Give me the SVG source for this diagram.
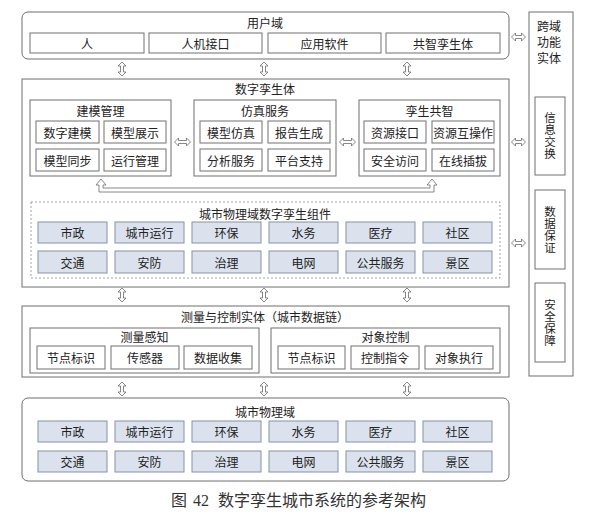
<svg xmlns="http://www.w3.org/2000/svg" width="597" height="516" viewBox="0 0 597 516">
<defs>
<style>
text{font-family:"Noto Sans CJK SC","Liberation Sans",sans-serif;font-size:12px;fill:#222;text-anchor:middle;dominant-baseline:central}
.vt{writing-mode:vertical-rl;font-size:11.5px;letter-spacing:0.5px}
.outer{fill:#fff;stroke:#6e6e6e;stroke-width:1}
.panel{fill:#fff;stroke:#6e6e6e;stroke-width:1}
.box{fill:#fff;stroke:#707070;stroke-width:1}
.cell{fill:#dbe2ee;stroke:#8592a6;stroke-width:1}
.dash{fill:none;stroke:#8a8a8a;stroke-width:0.8;stroke-dasharray:2 2}
.arr{fill:#fff;stroke:#6a6a6a;stroke-width:0.8}
.cap{font-family:"Liberation Serif","Noto Sans CJK SC",serif;font-size:16px;fill:#333;text-anchor:start}
</style>
<polygon id="va" points="0,-7 4,-3 1.5,-3 1.5,3 4,3 0,7 -4,3 -1.5,3 -1.5,-3 -4,-3"/>
<polygon id="ha" points="-8,0 -4,-4 -4,-1.5 4,-1.5 4,-4 8,0 4,4 4,1.5 -4,1.5 -4,4"/>
<polygon id="ha2" points="-7,0 -3,-4 -3,-1.5 3,-1.5 3,-4 7,0 3,4 3,1.5 -3,1.5 -3,4"/>
</defs>
<rect width="597" height="516" fill="#fff"/>

<g id="user-domain">
<rect class="outer" x="22" y="12" width="487" height="47" rx="6"/>
<text x="265" y="22">用户域</text>
<rect class="box" x="30" y="33" width="114" height="20"/><text x="87" y="43">人</text>
<rect class="box" x="149" y="33" width="113" height="20"/><text x="205.5" y="43">人机接口</text>
<rect class="box" x="268" y="33" width="113" height="20"/><text x="324.5" y="43">应用软件</text>
<rect class="box" x="386" y="33" width="114" height="20"/><text x="443" y="43">共智孪生体</text>
</g>

<g id="digital-twin">
<rect class="outer" x="22" y="79" width="487" height="208"/>
<text x="265" y="88">数字孪生体</text>
</g>

<g id="modeling">
<rect class="panel" x="30" y="100" width="141" height="76"/>
<text x="100.5" y="110">建模管理</text>
<rect class="box" x="36" y="121" width="63" height="22"/><text x="67.5" y="132">数字建模</text>
<rect class="box" x="104" y="121" width="62" height="22"/><text x="135" y="132">模型展示</text>
<rect class="box" x="36" y="149" width="63" height="22"/><text x="67.5" y="160">模型同步</text>
<rect class="box" x="104" y="149" width="62" height="22"/><text x="135" y="160">运行管理</text>
</g>

<g id="simulation">
<rect class="panel" x="194" y="100" width="142" height="76"/>
<text x="265" y="110">仿真服务</text>
<rect class="box" x="200" y="121" width="62" height="22"/><text x="231" y="132">模型仿真</text>
<rect class="box" x="268" y="121" width="62" height="22"/><text x="299" y="132">报告生成</text>
<rect class="box" x="200" y="149" width="62" height="22"/><text x="231" y="160">分析服务</text>
<rect class="box" x="268" y="149" width="62" height="22"/><text x="299" y="160">平台支持</text>
</g>

<g id="twin-intelligence">
<rect class="panel" x="359" y="100" width="141" height="76"/>
<text x="429.5" y="110">孪生共智</text>
<rect class="box" x="364" y="121" width="62" height="22"/><text x="395" y="132">资源接口</text>
<rect class="box" x="432" y="121" width="62" height="22"/><text x="463" y="132">资源互操作</text>
<rect class="box" x="364" y="149" width="62" height="22"/><text x="395" y="160">安全访问</text>
<rect class="box" x="432" y="149" width="62" height="22"/><text x="463" y="160">在线插拔</text>
</g>

<g id="twin-components">
<rect class="dash" x="31" y="202" width="469" height="76"/>
<text x="265" y="213">城市物理域数字孪生组件</text>
<rect class="cell" x="38" y="222" width="69" height="21"/><text x="72.5" y="232.5">市政</text>
<rect class="cell" x="115" y="222" width="69" height="21"/><text x="149.5" y="232.5">城市运行</text>
<rect class="cell" x="192" y="222" width="69" height="21"/><text x="226.5" y="232.5">环保</text>
<rect class="cell" x="269" y="222" width="69" height="21"/><text x="303.5" y="232.5">水务</text>
<rect class="cell" x="346" y="222" width="69" height="21"/><text x="380.5" y="232.5">医疗</text>
<rect class="cell" x="423" y="222" width="69" height="21"/><text x="457.5" y="232.5">社区</text>
<rect class="cell" x="38" y="251" width="69" height="22"/><text x="72.5" y="262">交通</text>
<rect class="cell" x="115" y="251" width="69" height="22"/><text x="149.5" y="262">安防</text>
<rect class="cell" x="192" y="251" width="69" height="22"/><text x="226.5" y="262">治理</text>
<rect class="cell" x="269" y="251" width="69" height="22"/><text x="303.5" y="262">电网</text>
<rect class="cell" x="346" y="251" width="69" height="22"/><text x="380.5" y="262">公共服务</text>
<rect class="cell" x="423" y="251" width="69" height="22"/><text x="457.5" y="262">景区</text>
</g>

<g id="measure-control">
<rect class="outer" x="22" y="306" width="487" height="71"/>
<text x="265" y="316">测量与控制实体（城市数据链）</text>
</g>

<g id="sensing">
<rect class="panel" x="30" y="328" width="229" height="45"/>
<text x="144.5" y="336">测量感知</text>
<rect class="box" x="37" y="346" width="68" height="23"/><text x="71" y="357.5">节点标识</text>
<rect class="box" x="111" y="346" width="68" height="23"/><text x="145" y="357.5">传感器</text>
<rect class="box" x="184" y="346" width="68" height="23"/><text x="218" y="357.5">数据收集</text>
</g>

<g id="object-control">
<rect class="panel" x="271" y="328" width="229" height="45"/>
<text x="385.5" y="336">对象控制</text>
<rect class="box" x="278" y="346" width="67" height="23"/><text x="311.5" y="357.5">节点标识</text>
<rect class="box" x="351" y="346" width="68" height="23"/><text x="385" y="357.5">控制指令</text>
<rect class="box" x="425" y="346" width="68" height="23"/><text x="459" y="357.5">对象执行</text>
</g>

<g id="city-physical">
<rect class="outer" x="22" y="398" width="487" height="83" rx="6"/>
<text x="265" y="411">城市物理域</text>
<rect class="cell" x="38" y="421" width="69" height="21"/><text x="72.5" y="431.5">市政</text>
<rect class="cell" x="115" y="421" width="69" height="21"/><text x="149.5" y="431.5">城市运行</text>
<rect class="cell" x="192" y="421" width="69" height="21"/><text x="226.5" y="431.5">环保</text>
<rect class="cell" x="269" y="421" width="69" height="21"/><text x="303.5" y="431.5">水务</text>
<rect class="cell" x="346" y="421" width="69" height="21"/><text x="380.5" y="431.5">医疗</text>
<rect class="cell" x="423" y="421" width="69" height="21"/><text x="457.5" y="431.5">社区</text>
<rect class="cell" x="38" y="451" width="69" height="21"/><text x="72.5" y="461.5">交通</text>
<rect class="cell" x="115" y="451" width="69" height="21"/><text x="149.5" y="461.5">安防</text>
<rect class="cell" x="192" y="451" width="69" height="21"/><text x="226.5" y="461.5">治理</text>
<rect class="cell" x="269" y="451" width="69" height="21"/><text x="303.5" y="461.5">电网</text>
<rect class="cell" x="346" y="451" width="69" height="21"/><text x="380.5" y="461.5">公共服务</text>
<rect class="cell" x="423" y="451" width="69" height="21"/><text x="457.5" y="461.5">景区</text>
</g>

<g id="cross-domain">
<rect class="outer" x="529" y="12" width="44" height="364"/>
<text x="549" y="25">跨域</text>
<text x="549" y="41">功能</text>
<text x="549" y="57">实体</text>
<rect class="box" x="535" y="97" width="30" height="78"/>
<text class="vt" x="550" y="136">信息交换</text>
<rect class="box" x="535" y="190" width="30" height="79"/>
<text class="vt" x="550" y="229.5">数据保证</text>
<rect class="box" x="535" y="283" width="30" height="79"/>
<text class="vt" x="550" y="322.5">安全保障</text>
</g>

<g id="connectors">
<use href="#va" class="arr" x="122" y="69"/>
<use href="#va" class="arr" x="264" y="69"/>
<use href="#va" class="arr" x="407" y="69"/>
<use href="#va" class="arr" x="122" y="295"/>
<use href="#va" class="arr" x="264" y="295"/>
<use href="#va" class="arr" x="407" y="295"/>
<use href="#va" class="arr" x="122" y="389"/>
<use href="#va" class="arr" x="264" y="389"/>
<use href="#va" class="arr" x="407" y="389"/>
<use href="#ha" class="arr" x="182.5" y="142"/>
<use href="#ha" class="arr" x="347.5" y="142"/>
<use href="#ha2" class="arr" x="518.5" y="37"/>
<use href="#ha2" class="arr" x="518.5" y="142"/>
<use href="#ha2" class="arr" x="518.5" y="243"/>
<polygon class="arr" points="101,179 106,185 103,185 103,188 430,188 430,185 427,185 432,179 437,185 434,185 434,192 99,192 99,185 96,185"/>
</g>

<text class="cap" y="500"><tspan x="171">图</tspan><tspan x="193">42</tspan><tspan x="218">数字孪生城市系统的参考架构</tspan></text>
</svg>
